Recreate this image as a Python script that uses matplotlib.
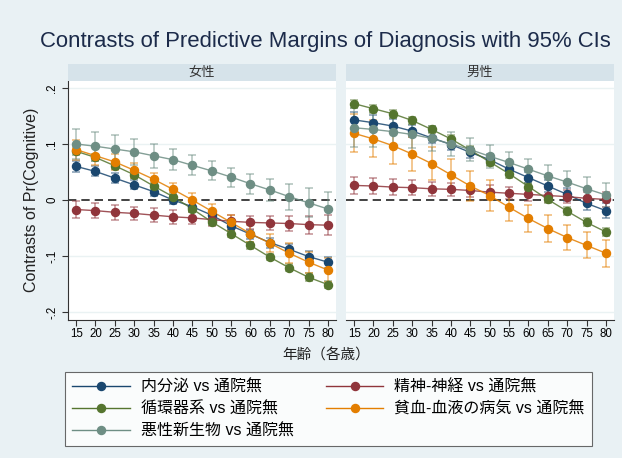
import matplotlib.pyplot as plt
from matplotlib.lines import Line2D
from matplotlib.patches import Rectangle

plt.rcParams["font.family"] = ["Liberation Sans", "Noto Sans CJK JP", "DejaVu Sans"]

ages = [15, 20, 25, 30, 35, 40, 45, 50, 55, 60, 65, 70, 75, 80]
panel_titles = ["女性", "男性"]
series_labels = [
    "内分泌 vs 通院無",
    "精神-神経 vs 通院無",
    "循環器系 vs 通院無",
    "貧血-血液の病気 vs 通院無",
    "悪性新生物 vs 通院無",
]
series_colors = ["#1a476f", "#90353b", "#55752f", "#e37e00", "#6e8e84"]

# female: contrasts and 95% CI half-widths
f_endo = [0.060, 0.051, 0.039, 0.027, 0.015, 0.000, -0.012, -0.027, -0.046, -0.061, -0.076, -0.088, -0.101, -0.111]
f_endo_ci = [0.010, 0.009, 0.009, 0.008, 0.008, 0.008, 0.008, 0.008, 0.008, 0.008, 0.009, 0.009, 0.010, 0.010]
f_psych = [-0.017, -0.019, -0.022, -0.024, -0.027, -0.030, -0.032, -0.035, -0.038, -0.040, -0.041, -0.042, -0.044, -0.045]
f_psych_ci = [0.015, 0.014, 0.013, 0.012, 0.012, 0.012, 0.011, 0.011, 0.011, 0.012, 0.013, 0.014, 0.016, 0.018]
f_circ = [0.087, 0.076, 0.061, 0.045, 0.025, 0.006, -0.016, -0.039, -0.060, -0.081, -0.102, -0.121, -0.138, -0.151]
f_circ_ci = [0.007, 0.006, 0.006, 0.006, 0.006, 0.006, 0.006, 0.006, 0.006, 0.006, 0.006, 0.006, 0.007, 0.007]
f_blood = [0.090, 0.079, 0.068, 0.053, 0.037, 0.019, 0.000, -0.020, -0.040, -0.060, -0.077, -0.095, -0.111, -0.125]
f_blood_ci = [0.018, 0.016, 0.014, 0.013, 0.012, 0.012, 0.012, 0.013, 0.014, 0.015, 0.016, 0.018, 0.019, 0.021]
f_cancer = [0.100, 0.096, 0.091, 0.086, 0.079, 0.072, 0.062, 0.052, 0.041, 0.029, 0.018, 0.006, -0.005, -0.016]
f_cancer_ci = [0.027, 0.026, 0.025, 0.023, 0.021, 0.019, 0.018, 0.017, 0.017, 0.018, 0.020, 0.023, 0.026, 0.030]

# male
m_endo = [0.143, 0.138, 0.132, 0.123, 0.111, 0.099, 0.085, 0.072, 0.055, 0.040, 0.025, 0.010, -0.006, -0.019]
m_endo_ci = [0.015, 0.013, 0.012, 0.011, 0.010, 0.010, 0.010, 0.010, 0.010, 0.010, 0.010, 0.011, 0.012, 0.013]
m_psych = [0.026, 0.025, 0.023, 0.022, 0.020, 0.019, 0.017, 0.014, 0.012, 0.010, 0.008, 0.006, 0.003, 0.001]
m_psych_ci = [0.015, 0.015, 0.014, 0.013, 0.013, 0.012, 0.012, 0.012, 0.011, 0.011, 0.011, 0.011, 0.012, 0.013]
m_circ = [0.172, 0.163, 0.154, 0.142, 0.126, 0.109, 0.089, 0.068, 0.047, 0.024, 0.001, -0.020, -0.040, -0.057]
m_circ_ci = [0.007, 0.007, 0.007, 0.007, 0.007, 0.007, 0.007, 0.007, 0.007, 0.007, 0.007, 0.007, 0.007, 0.007]
m_blood = [0.119, 0.109, 0.097, 0.082, 0.065, 0.045, 0.025, 0.008, -0.013, -0.033, -0.051, -0.067, -0.081, -0.095]
m_blood_ci = [0.034, 0.033, 0.032, 0.031, 0.030, 0.029, 0.027, 0.027, 0.025, 0.024, 0.024, 0.023, 0.023, 0.024]
m_cancer = [0.129, 0.126, 0.122, 0.117, 0.110, 0.100, 0.090, 0.078, 0.067, 0.055, 0.043, 0.032, 0.020, 0.009]
m_cancer_ci = [0.035, 0.031, 0.027, 0.024, 0.022, 0.021, 0.020, 0.020, 0.019, 0.019, 0.019, 0.020, 0.021, 0.022]

panels = [
    [(f_endo, f_endo_ci), (f_psych, f_psych_ci), (f_circ, f_circ_ci), (f_blood, f_blood_ci), (f_cancer, f_cancer_ci)],
    [(m_endo, m_endo_ci), (m_psych, m_psych_ci), (m_circ, m_circ_ci), (m_blood, m_blood_ci), (m_cancer, m_cancer_ci)],
]

bg = "#e9f1f4"
strip_color = "#d6e3ea"
W, H = 622, 458

fig = plt.figure(figsize=(W / 100, H / 100), dpi=100, facecolor=bg)

fig.text(325 / W, 1 - 42 / H, "Contrasts of Predictive Margins of Diagnosis with 95% CIs",
         ha="center", va="center", fontsize=15.9, color="#1c2b4a")

panel_x = [68, 346]
pw = 268
top, bottom = 81, 320

for i, (px, title) in enumerate(zip(panel_x, panel_titles)):
    ax = fig.add_axes([px / W, 1 - bottom / H, pw / W, (bottom - top) / H])
    ax.set_facecolor("white")

    # strip header above each panel
    fig.patches.append(Rectangle((px / W, 1 - top / H), pw / W, 17 / H,
                                 transform=fig.transFigure, facecolor=strip_color,
                                 edgecolor="none"))
    fig.text((px + pw / 2) / W, 1 - 72.5 / H, title, ha="center", va="center",
             fontsize=9.5, color="#333333")

    for y in [-0.2, -0.1, 0.1, 0.2]:
        ax.axhline(y, color="#eaf2f3", lw=1, zorder=0)
    ax.axhline(0, color="#222222", lw=1.2, ls=(0, (5, 3)), zorder=1)

    for (vals, ci), color in zip(panels[i], series_colors):
        ax.errorbar(ages, vals, yerr=ci, fmt="none", ecolor=color, alpha=0.55,
                    elinewidth=1.1, capsize=3.2, capthick=1.1, zorder=2)
    for (vals, ci), color in zip(panels[i], series_colors):
        ax.plot(ages, vals, color=color, lw=1.0, alpha=0.85, zorder=3)
        ax.plot(ages, vals, "o", color=color, ms=5.8, mec=color, zorder=4)

    ax.set_xlim(12.9, 82.1)
    ax.set_ylim(-0.2143, 0.2125)
    ax.set_xticks(ages)
    ax.set_xticklabels([str(a) for a in ages], fontsize=8.3)
    ax.set_yticks([-0.2, -0.1, 0, 0.1, 0.2])

    for s in ["top", "right"]:
        ax.spines[s].set_visible(False)
    ax.spines["bottom"].set_color("#333333")
    ax.spines["bottom"].set_linewidth(0.8)
    ax.tick_params(axis="x", length=4, width=0.8, color="#333333", pad=2)

    if i == 0:
        ax.spines["left"].set_color("#333333")
        ax.spines["left"].set_linewidth(0.8)
        ax.set_yticklabels(["-.2", "-.1", "0", ".1", ".2"], rotation=90,
                           va="center", fontsize=8.3)
        ax.tick_params(axis="y", length=4, width=0.8, color="#333333", pad=3)
    else:
        ax.spines["left"].set_visible(False)
        ax.tick_params(axis="y", left=False, labelleft=False)

fig.text(32 / W, 1 - 200 / H, "Contrasts of Pr(Cognitive)", rotation=90,
         ha="center", va="center", fontsize=11.5, color="#222222")
fig.text(326 / W, 1 - 356 / H, "年齢（各歳）", ha="center", va="center",
         fontsize=10.5, color="#222222")

# legend: matplotlib fills columns first, so reorder to read row by row
order = [0, 2, 4, 1, 3]
handles = [Line2D([0], [0], color=series_colors[k], lw=1.0, marker="o", ms=5.8)
           for k in order]
labels = [series_labels[k] for k in order]
leg = fig.legend(handles, labels, ncol=2, loc="upper left",
                 bbox_to_anchor=(65 / W, 1 - 372 / H),
                 fontsize=11.5, frameon=True, fancybox=False, edgecolor="#444444",
                 handlelength=3.6, numpoints=1, borderaxespad=0, borderpad=0.45,
                 labelspacing=0.45, handletextpad=0.7, columnspacing=2.0)
leg.get_frame().set_linewidth(0.8)

fig.savefig("out.png", dpi=100, facecolor=bg)
